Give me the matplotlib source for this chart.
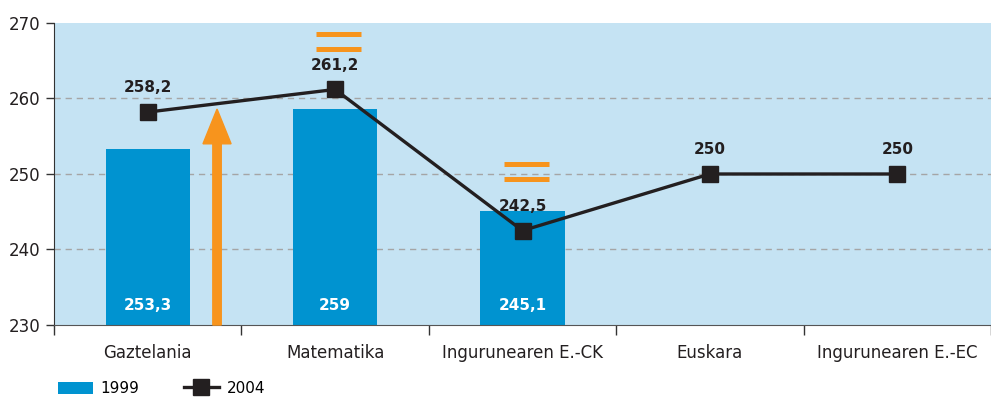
import matplotlib
matplotlib.use("Agg")
import matplotlib.pyplot as plt
from matplotlib.patches import FancyArrow
import numpy as np

categories = ["Gaztelania", "Matematika", "Ingurunearen E.-CK", "Euskara", "Ingurunearen E.-EC"]
values_1999 = [253.3, 258.6, 245.1]
labels_1999 = ["253,3", "259", "245,1"]
values_2004 = [258.2, 261.2, 242.5, 250, 250]
labels_2004 = ["258,2", "261,2", "242,5", "250", "250"]
yticks = [230, 240, 250, 260, 270]

BAR = "#0093d0"
BG = "#c5e3f3"
ORANGE = "#f7941d"
LINE = "#231f20"
TXT = "#231f20"

plt.rcParams['font.family'] = ['DejaVu Sans']

fig = plt.figure(figsize=(9.91, 4.0), dpi=100)
ax = fig.add_axes([54/991, 75/400, 1 - 54/991, (325-23)/400])
ax.set_facecolor(BG)

x = np.arange(len(categories))
ax.set_xlim(-0.5, len(categories) - 0.5)
ax.set_ylim(230, 270)

for yv in [240, 250, 260]:
    ax.axhline(yv, color="#a5a5a5", lw=1, ls=(0, (4.5, 3.5)), zorder=1)

bars = ax.bar(x[:len(values_1999)], [v - 230 for v in values_1999], bottom=230,
              width=0.45, color=BAR, zorder=2, label="1999")
for xi, lab in zip(x, labels_1999):
    ax.text(xi, 232.6, lab, ha="center", va="center", color="white",
            fontsize=11, fontweight="bold", zorder=5)

ln, = ax.plot(x, values_2004, color=LINE, lw=2.4, marker="s", markersize=11,
              zorder=4, label="2004")
for xi, v, lab in zip(x, values_2004, labels_2004):
    ax.annotate(lab, (xi, v), xytext=(0, 12), textcoords="offset points",
                ha="center", va="bottom", fontsize=11, fontweight="bold",
                color=TXT, zorder=5)

# orange arrow up (Gaztelania)
ax.add_patch(FancyArrow(0.37, 230, 0, 258.6 - 230, width=0.045, head_width=0.15,
                        head_length=4.6, length_includes_head=True,
                        color=ORANGE, zorder=3, clip_on=False))

# orange equals signs
for xc, ys in [(1.02, (268.6, 266.6)), (2.02, (251.3, 249.3))]:
    for yv in ys:
        ax.plot([xc - 0.12, xc + 0.12], [yv, yv], color=ORANGE, lw=3.6,
                solid_capstyle="butt", zorder=3)

ax.set_yticks(yticks)
ax.set_yticklabels([str(t) for t in yticks], fontsize=12, color=TXT)
ax.set_xticks(x)
ax.set_xticklabels(categories, fontsize=12, color=TXT)
ax.tick_params(axis="x", which="major", length=0, pad=14)
ax.set_xticks(np.arange(-0.5, len(categories), 1), minor=True)
ax.tick_params(axis="x", which="minor", length=7, color="#333333", width=1)
ax.tick_params(axis="y", length=6, color="#333333", width=1, pad=4)

for s in ["top", "right"]:
    ax.spines[s].set_visible(False)
ax.spines["left"].set_color("#333333")
ax.spines["bottom"].set_color("#555555")

fig.legend(handles=[bars, ln], labels=["1999", "2004"], loc="lower left",
           bbox_to_anchor=(44/991, -0.025), ncol=2, frameon=False, fontsize=11,
           handlelength=2.3, handleheight=0.9, columnspacing=2.9,
           handletextpad=0.5, borderaxespad=0.5)

fig.savefig("out.png", dpi=100)
